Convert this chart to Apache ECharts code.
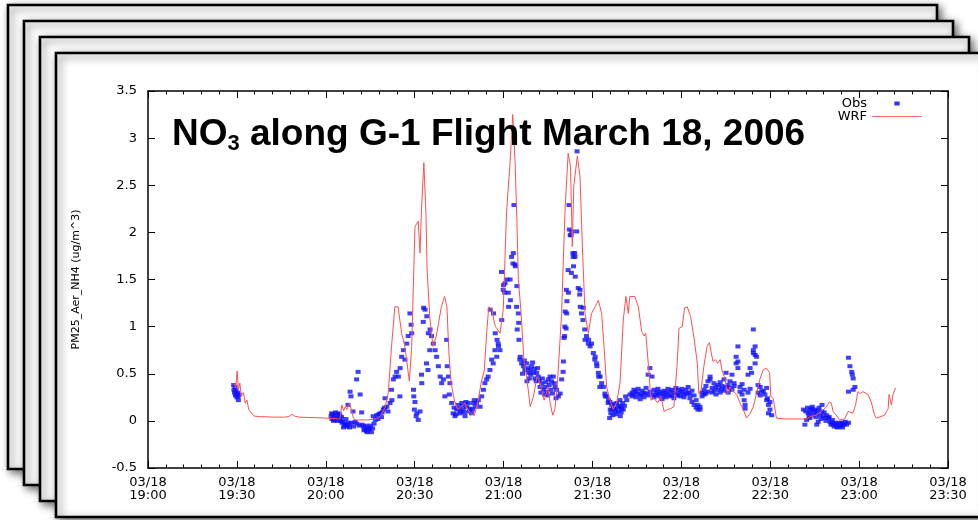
<!DOCTYPE html>
<html>
<head>
<meta charset="utf-8">
<script src="https://cdn.jsdelivr.net/npm/echarts@6/dist/echarts.min.js"></script>
<style>html,body{margin:0;padding:0;background:#fff}#c{width:978px;height:520px}</style>
</head>
<body>
<div id="c"></div>
<script>
// x values are minutes after 03/18 19:00
const xTickLabels = ['19:00','19:30','20:00','20:30','21:00','21:30','22:00','22:30','23:00','23:30'];
const datePart = '03/18';
const seriesNames = ['Obs', 'WRF'];

const wrfData = [
 [29.0,0.40],[29.6,0.35],[30.1,0.53],[30.5,0.33],[31.0,0.40],[31.5,0.26],[32.2,0.30],[32.8,0.19],[33.4,0.22],[34.0,0.12],[34.6,0.14],[35.2,0.07],[36.0,0.05],
 [38.0,0.045],[42.0,0.04],[46.0,0.04],[47.5,0.045],[48.6,0.07],[49.5,0.05],[51.0,0.04],[55.0,0.035],[60.0,0.03],[64.8,0.02],
 [65.4,0.17],[66.0,0.11],[66.6,0.15],[67.1,0.12],[68.0,0.19],[68.8,0.10],[69.3,0.03],[70.0,0.01],[74.0,0.01],[77.2,0.02],
 [78.3,0.045],[80.0,0.14],[81.1,0.30],[82.2,0.79],[83.3,1.21],[84.4,1.21],[85.6,0.93],[86.7,0.79],[88.2,0.42],[89.0,0.79],
 [90.1,2.06],[91.2,2.12],[91.8,1.78],[92.3,2.24],[93.1,2.74],[93.8,2.2],[94.2,1.6],[95.1,1.1],[96.2,0.79],[97.3,0.9],
 [99.0,1.21],[100.1,1.32],[100.9,1.21],[101.5,0.75],[102.3,0.40],[103.4,0.22],[104.5,0.12],[105.7,0.15],[106.8,0.19],[107.9,0.12],
 [109.0,0.08],[110.1,0.06],[111.3,0.19],[112.4,0.40],[113.5,0.54],[114.3,0.93],[115.0,1.21],[116.1,1.18],[116.9,1.04],[117.3,1.0],
 [118.8,0.93],[119.9,1.18],[121.0,2.21],[122.2,2.74],[123.1,3.25],[123.9,2.74],[124.5,2.13],[125.0,1.5],[125.9,1.15],[126.8,0.68],
 [127.9,0.44],[129.0,0.15],[130.1,0.26],[131.3,0.47],[132.3,0.40],[133.7,0.22],[135.1,0.36],[135.7,0.19],[136.6,0.06],[137.3,0.12],
 [138.1,0.36],[138.8,0.72],[139.6,1.14],[140.1,1.64],[140.8,2.27],[141.8,2.84],[142.6,2.7],[143.2,1.85],[143.7,2.49],[144.9,2.81],
 [145.8,2.59],[146.6,1.85],[147.5,1.14],[148.6,0.93],[149.7,1.14],[150.9,1.21],[152.0,1.28],[153.1,1.14],[153.9,0.79],[154.8,0.36],
 [155.9,0.22],[157.0,0.12],[158.2,0.2],[159.3,0.4],[160.4,1.07],[161.3,1.32],[162.1,1.14],[162.6,1.32],[164.3,1.32],[165.5,1.21],
 [166.6,0.95],[167.4,0.9],[168.0,0.93],[169.1,0.51],[169.7,0.22],[170.8,0.24],[172.0,0.19],[173.1,0.26],[174.2,0.10],[175.3,0.12],
 [176.4,0.13],[177.5,0.15],[178.6,0.61],[179.2,0.98],[180.3,1.0],[181.1,1.2],[182.0,1.21],[183.1,1.11],[184.2,0.9],[185.4,0.61],
 [185.9,0.29],[186.7,0.33],[187.6,0.58],[188.7,0.79],[189.5,0.83],[190.1,0.72],[190.7,0.63],[191.5,0.65],[192.3,0.61],[193.1,0.65],
 [193.7,0.54],[194.8,0.44],[195.6,0.29],[196.4,0.36],[197.6,0.31],[198.7,0.28],[199.8,0.19],[200.9,0.12],[202.0,0.03],[203.2,0.08],
 [204.3,0.15],[205.4,0.29],[206.5,0.44],[207.6,0.54],[208.7,0.56],[209.8,0.51],[210.2,0.26],[211.0,0.24],[212.1,0.03],[215.0,0.02],
 [222.3,0.02],[223.4,0.045],[225.6,0.06],[227.3,0.10],[229.0,0.15],[229.9,0.20],[230.6,0.19],[231.2,0.10],[232.3,0.06],[233.4,0.01],
 [235.1,0.02],[236.3,0.10],[237.9,0.08],[238.8,0.17],[239.6,0.31],[240.4,0.29],[241.3,0.31],[243.0,0.28],[244.1,0.20],[245.2,0.06],
 [245.8,0.03],[248.6,0.06],[249.8,0.13],[250.1,0.28],[250.9,0.17],[251.4,0.28],[252.3,0.35]
];

const obsData = [
 [28.9,0.38],[29.0,0.33],[29.2,0.30],[29.4,0.36],[29.5,0.27],[29.7,0.32],[29.9,0.28],[30.0,0.25],[30.2,0.30],[30.4,0.26],[30.5,0.22],[30.7,0.28],
 [61.8,0.05],[62.1,0.02],[62.4,0.07],[62.8,0.04],[63.1,0.01],[63.5,0.06],[63.8,0.03],[64.1,0.08],[64.5,0.02],[64.8,0.05],
 [62.0,0.08],[62.6,0.00],[63.3,0.09],[64.0,0.00],[64.6,0.07],[65.3,0.04],[66.0,-0.07],[66.9,-0.04],[67.6,-0.02],[68.0,-0.07],
 [65.1,0.0],[65.5,-0.02],[65.8,-0.01],[66.2,-0.05],[66.5,-0.03],[66.8,0.02],[67.2,-0.06],[67.5,0.17],[67.8,-0.04],[68.2,0.31],
 [68.5,0.26],[68.7,-0.02],[69.2,0.10],[69.4,-0.06],[69.9,-0.01],[70.4,0.44],[70.5,-0.03],[70.9,0.52],[71.3,-0.05],[71.6,0.28],
 [72.1,0.09],[72.2,-0.04],[72.7,-0.06],[73.2,-0.09],[73.8,-0.11],[74.3,-0.07],[74.9,-0.08],[75.4,-0.12],[76.0,0.05],[76.3,-0.03],
 [72.9,-0.10],[73.5,-0.05],[74.0,-0.12],[74.6,-0.09],[75.1,-0.05],[75.8,-0.08],[76.7,0.01],[77.9,0.07],[79.0,0.09],[79.8,0.14],
 [77.2,0.06],[77.6,0.02],[78.3,0.08],[78.8,0.04],[79.4,0.12],[80.0,0.24],[80.6,0.15],[81.0,0.10],[81.7,0.19],[82.2,0.33],
 [82.3,0.22],[82.8,0.44],[83.4,0.47],[83.9,0.52],[84.5,0.47],[85.1,0.56],[85.0,0.26],[85.6,0.68],[86.2,0.75],[86.7,0.65],
 [87.3,0.82],[87.8,0.90],[88.4,1.14],[88.8,1.02],[89.0,0.93],[89.6,0.33],[89.7,0.26],[89.9,0.12],[90.1,0.20],[90.5,0.05],
 [90.7,0.08],[91.2,0.01],[91.8,0.10],[92.4,0.40],[92.3,0.49],[92.9,1.05],[93.0,1.20],[93.5,1.18],[94.1,1.11],[94.0,0.61],
 [94.6,0.93],[94.5,0.54],[95.2,0.97],[95.1,0.75],[95.7,0.90],[96.3,0.82],[96.9,0.75],[97.4,0.68],[98.0,0.58],[98.6,0.47],
 [99.1,0.40],[99.7,0.44],[100.2,0.26],[100.8,0.86],[101.0,0.58],[101.4,0.47],[101.7,0.28],[101.9,0.40],[102.5,0.19],[103.0,0.08],
 [103.6,0.05],[104.2,0.12],[104.7,0.17],[105.3,0.08],[105.9,0.19],[106.4,0.12],[107.0,0.05],[107.6,0.15],[108.1,0.19],[108.7,0.13],
 [103.3,0.14],[104.0,0.07],[105.0,0.13],[105.6,0.10],[106.2,0.16],[106.8,0.09],[107.3,0.20],[108.4,0.10],[109.5,0.12],[110.1,0.22],
 [109.2,0.08],[109.8,0.19],[110.4,0.15],[110.9,0.19],[111.5,0.22],[112.1,0.15],[112.6,0.26],[113.2,0.33],[113.7,0.40],[114.3,0.44],
 [114.8,0.47],[115.4,0.54],[115.5,1.18],[116.0,0.65],[116.5,0.61],[116.6,1.14],[117.1,0.75],[117.2,0.93],[117.7,0.68],[117.8,0.86],
 [118.2,0.82],[118.3,0.79],[118.8,0.75],[119.4,1.07],[119.3,1.58],[119.9,1.39],[120.0,1.44],[120.5,1.46],[120.4,1.36],[121.1,1.50],
 [121.6,1.36],[121.7,1.21],[122.2,1.50],[122.3,1.28],[122.7,1.74],[123.3,1.78],[123.2,1.67],[123.5,2.29],[123.9,1.66],[124.0,1.64],
 [124.5,1.43],[124.4,1.21],[124.6,0.97],[125.0,1.14],[125.1,1.04],[125.2,0.86],[125.6,0.68],[125.5,0.65],[126.1,0.61],[126.7,0.58],
 [127.2,0.54],[127.8,0.61],[127.9,0.42],[128.4,0.51],[128.9,0.54],[129.5,0.58],[130.1,0.51],[130.6,0.45],[131.2,0.51],[131.7,0.47],
 [126.4,0.50],[127.0,0.64],[128.1,0.56],[128.7,0.45],[129.2,0.49],[129.8,0.62],[130.4,0.55],[131.0,0.42],[131.5,0.56],[132.0,0.43],
 [132.3,0.36],[132.9,0.40],[133.4,0.33],[134.0,0.36],[134.6,0.31],[135.1,0.44],[135.7,0.47],[136.2,0.42],[136.8,0.47],[137.4,0.36],
 [132.6,0.30],[133.1,0.45],[133.8,0.28],[134.3,0.41],[134.9,0.27],[135.4,0.38],[136.0,0.33],[136.5,0.29],[137.1,0.40],[137.7,0.24],
 [137.9,0.33],[138.5,0.26],[139.1,0.29],[139.6,0.44],[140.2,0.63],[140.1,0.52],[140.4,0.88],[140.7,1.00],[140.8,1.16],[140.6,0.90],
 [141.3,1.14],[141.2,1.39],[141.4,1.27],[141.1,0.98],[141.8,1.60],[141.9,1.36],[142.1,2.29],[142.2,2.03],[142.5,1.97],[142.8,1.97],
 [143.0,2.01],[142.9,1.57],[143.5,1.74],[143.6,1.64],[143.4,1.78],[144.0,1.78],[144.1,1.74],[144.2,1.53],[144.7,2.01],[144.8,2.86],
 [145.2,1.41],[145.8,1.39],[145.7,1.34],[145.9,1.21],[146.3,1.14],[146.9,1.20],[146.8,1.07],[147.4,0.97],[147.5,0.86],[148.0,0.90],
 [148.6,0.82],[148.7,0.86],[149.2,0.79],[149.7,0.82],[150.3,0.72],[150.9,0.68],[150.8,0.65],[151.4,0.61],[151.5,0.58],[152.0,0.51],
 [152.1,0.47],[152.6,0.47],[152.5,0.36],[153.1,0.40],[153.7,0.36],[154.2,0.29],[154.3,0.26],[154.8,0.26],[155.4,0.22],[155.3,0.19],
 [155.9,0.20],[156.0,0.12],[155.8,0.03],[156.5,0.17],[156.6,0.12],[157.1,0.13],[157.6,0.12],[157.7,0.10],[158.2,0.19],[158.8,0.10],
 [156.2,0.08],[156.9,0.06],[157.4,0.18],[158.0,0.07],[158.5,0.14],[159.0,0.16],[159.7,0.09],[160.2,0.19],[160.8,0.16],[161.2,0.26],
 [159.4,0.05],[159.3,0.22],[159.5,0.15],[159.9,0.13],[160.4,0.12],[161.6,0.22],[162.7,0.28],
 [163.4,0.30],[163.4,0.26],[164.0,0.33],[164.0,0.28],[164.7,0.25],[164.7,0.31],[165.4,0.29],[165.4,0.34],[166.1,0.27],[166.1,0.23],
 [166.7,0.32],[166.7,0.28],[167.4,0.30],[167.4,0.25],[168.1,0.35],[168.1,0.29],[168.8,0.27],[168.8,0.49],[169.4,0.56],[169.4,0.31],
 [170.1,0.47],[170.1,0.28],[170.8,0.33],[170.8,0.25],[171.5,0.30],[171.5,0.27],[172.1,0.34],[172.1,0.29],[172.8,0.26],[172.8,0.31],
 [173.5,0.29],[173.5,0.23],[174.2,0.32],[174.2,0.27],[174.8,0.25],[174.8,0.30],[175.5,0.28],[175.5,0.34],[176.2,0.31],[176.2,0.26],
 [176.9,0.27],[176.9,0.33],[177.5,0.30],[177.5,0.24],[178.2,0.29],[178.2,0.35],[178.9,0.33],[178.9,0.27],[179.6,0.26],[179.6,0.30],
 [180.2,0.31],[180.2,0.34],[180.9,0.28],[180.9,0.25],[181.6,0.33],[181.6,0.29],[182.3,0.30],[182.3,0.36],[182.9,0.24],[182.9,0.28],
 [183.6,0.20],[183.6,0.32],[184.3,0.17],[184.3,0.27],[185.0,0.22],[185.0,0.14],[185.6,0.17],[185.6,0.12],[186.3,0.12],[186.3,0.15],
 [187.0,0.30],[187.0,0.26],[187.7,0.33],[187.7,0.28],[188.3,0.29],[188.3,0.37],[189.0,0.42],[189.0,0.31],[189.7,0.47],[189.7,0.44],
 [190.4,0.35],[190.4,0.30],[191.0,0.40],[191.0,0.32],[191.7,0.36],[191.7,0.28],[192.4,0.33],[192.4,0.38],[193.1,0.30],[193.1,0.41],
 [193.7,0.37],[193.7,0.34],[194.4,0.44],[194.4,0.32],[195.1,0.51],[195.1,0.36],[195.8,0.38],[195.8,0.30],[196.4,0.42],[196.4,0.35],
 [197.1,0.49],[197.1,0.33],[197.8,0.37],[197.8,0.40],[198.5,0.61],[198.5,0.68],[199.1,0.79],[199.1,0.56],[199.1,0.63],[199.8,0.36],
 [199.8,0.31],[200.5,0.28],[200.5,0.39],[201.2,0.22],[201.2,0.33],[201.5,0.13],[201.5,0.17],[202.5,0.49],[202.5,0.30],[203.2,0.56],
 [203.2,0.34],[203.7,0.51],[204.3,0.97],[204.3,0.72],[204.3,0.75],[204.9,0.79],[204.9,0.70],[204.9,0.61],[205.4,0.68],[205.9,0.38],
 [205.9,0.30],[206.6,0.36],[206.6,0.27],[207.2,0.32],[207.7,0.31],[208.2,0.28],[208.8,0.22],[208.8,0.35],[209.1,0.24],[209.4,0.17],
 [209.4,0.08],[209.9,0.12],[209.9,0.20],[210.5,0.06],
 [221.2,0.12],[221.7,-0.04],[222.3,0.01],[222.8,0.08],[223.4,0.12],[223.4,0.03],[224.0,0.13],[224.2,0.15],[224.5,0.06],[225.1,0.12],
 [225.7,0.08],[225.7,-0.04],[226.2,-0.01],[226.5,0.14],[226.8,0.06],[227.4,0.10],[227.5,0.17],[227.9,0.05],[228.5,0.03],[229.1,0.06],
 [222.0,0.10],[222.6,0.14],[223.1,0.05],[223.7,0.09],[224.8,0.10],[225.4,0.04],[226.0,0.11],[227.1,0.02],[228.2,0.09],[228.8,0.00],
 [229.6,0.03],[230.2,-0.01],[230.7,-0.02],[231.3,-0.04],[231.9,-0.02],[232.4,-0.06],[233.0,-0.04],[233.6,-0.06],[234.1,-0.02],[234.7,-0.04],
 [229.9,0.04],[230.5,-0.04],[231.0,0.01],[231.6,-0.06],[232.1,-0.03],[232.7,-0.07],[233.3,-0.02],[233.9,-0.05],[234.4,-0.07],[235.0,-0.03],
 [235.3,-0.01],[235.8,-0.04],[236.4,-0.02],[236.4,0.67],[236.4,0.31],[236.9,0.58],[237.5,0.52],[237.7,0.49],[238.0,0.45],[238.0,0.33],
 [238.6,0.36]
];

const chart = echarts.init(document.getElementById('c'), null, {renderer: 'canvas'});
const font = 'DejaVu Sans';
const frameStyle = {fill: '#fff', stroke: '#000', lineWidth: 2.6, shadowBlur: 8, shadowColor: 'rgba(0,0,0,0.55)', shadowOffsetX: 3, shadowOffsetY: 3};
const frames = [[8,5],[24,21],[40,37],[56,53]].map(function (p, i) {
  return {type: 'rect', z: -20 + i, shape: {x: p[0], y: p[1], width: 929, height: 464}, style: frameStyle};
});

const xBase = {
  type: 'value', min: 0, max: 270, interval: 30,
  axisLine: {show: true, onZero: false, lineStyle: {color: '#000', width: 1.5}},
  axisTick: {show: true, inside: true, length: 7, lineStyle: {color: '#000', width: 1}},
  minorTick: {show: true, splitNumber: 5, length: 3.5, lineStyle: {color: '#000', width: 1}},
  splitLine: {show: false}, minorSplitLine: {show: false}
};
const yBase = {
  type: 'value', min: -0.5, max: 3.5, interval: 0.5,
  axisLine: {show: true, onZero: false, lineStyle: {color: '#000', width: 1.5}},
  axisTick: {show: true, inside: true, length: 7, lineStyle: {color: '#000', width: 1}},
  splitLine: {show: false}
};

chart.setOption({
  backgroundColor: '#fff',
  animation: false,
  graphic: frames,
  title: {
    left: 167, top: 110, z: 10,
    text: '{a|NO}{s|3}{a| along G-1 Flight March 18, 2006}',
    textStyle: {
      rich: {
        a: {fontFamily: 'Liberation Sans', fontWeight: 'bold', fontSize: 37, lineHeight: 40, color: '#000'},
        s: {fontFamily: 'Liberation Sans', fontWeight: 'bold', fontSize: 22, lineHeight: 16, verticalAlign: 'bottom', color: '#000'}
      }
    }
  },
  legend: {
    orient: 'vertical', align: 'right', right: 51, top: 92,
    itemWidth: 50, itemHeight: 4, itemGap: 0, symbolKeepAspect: true,
    textStyle: {fontFamily: font, fontSize: 13, lineHeight: 12, color: '#000'},
    data: [
      {name: seriesNames[0], icon: 'path://M0,0L4,0L4,3L0,3Z', itemStyle: {color: '#0000ff'}},
      {name: seriesNames[1], icon: 'path://M0,0L50,0L50,1L0,1Z', itemStyle: {color: '#ff6a6a'}}
    ]
  },
  grid: {left: 148, right: 30, top: 91, bottom: 52, show: false},
  xAxis: [
    Object.assign({}, xBase, {
      position: 'bottom',
      axisLabel: {
        show: true, margin: 8, color: '#000', fontFamily: font, fontSize: 13, lineHeight: 13,
        formatter: function (v) { return datePart + '\n' + xTickLabels[Math.round(v / 30)]; }
      }
    }),
    Object.assign({}, xBase, {position: 'top', axisLabel: {show: false}})
  ],
  yAxis: [
    Object.assign({}, yBase, {
      position: 'left',
      name: 'PM25_Aer_NH4 (ug/m^3)', nameLocation: 'middle', nameGap: 66, nameRotate: 90,
      nameTextStyle: {fontFamily: font, fontSize: 11, color: '#000'},
      axisLabel: {show: true, margin: 11, color: '#000', fontFamily: font, fontSize: 13}
    }),
    Object.assign({}, yBase, {position: 'right', axisLabel: {show: false}})
  ],
  series: [
    {
      name: seriesNames[0], type: 'scatter', data: obsData,
      symbol: 'rect', symbolSize: [5, 4], z: 3,
      itemStyle: {color: '#1010ff', opacity: 0.8}
    },
    {
      name: seriesNames[1], type: 'line', data: wrfData,
      showSymbol: false, symbol: 'none', z: 4,
      lineStyle: {color: '#ff5050', width: 1},
      itemStyle: {color: '#ff5050'}
    }
  ]
});
</script>
</body>
</html>
